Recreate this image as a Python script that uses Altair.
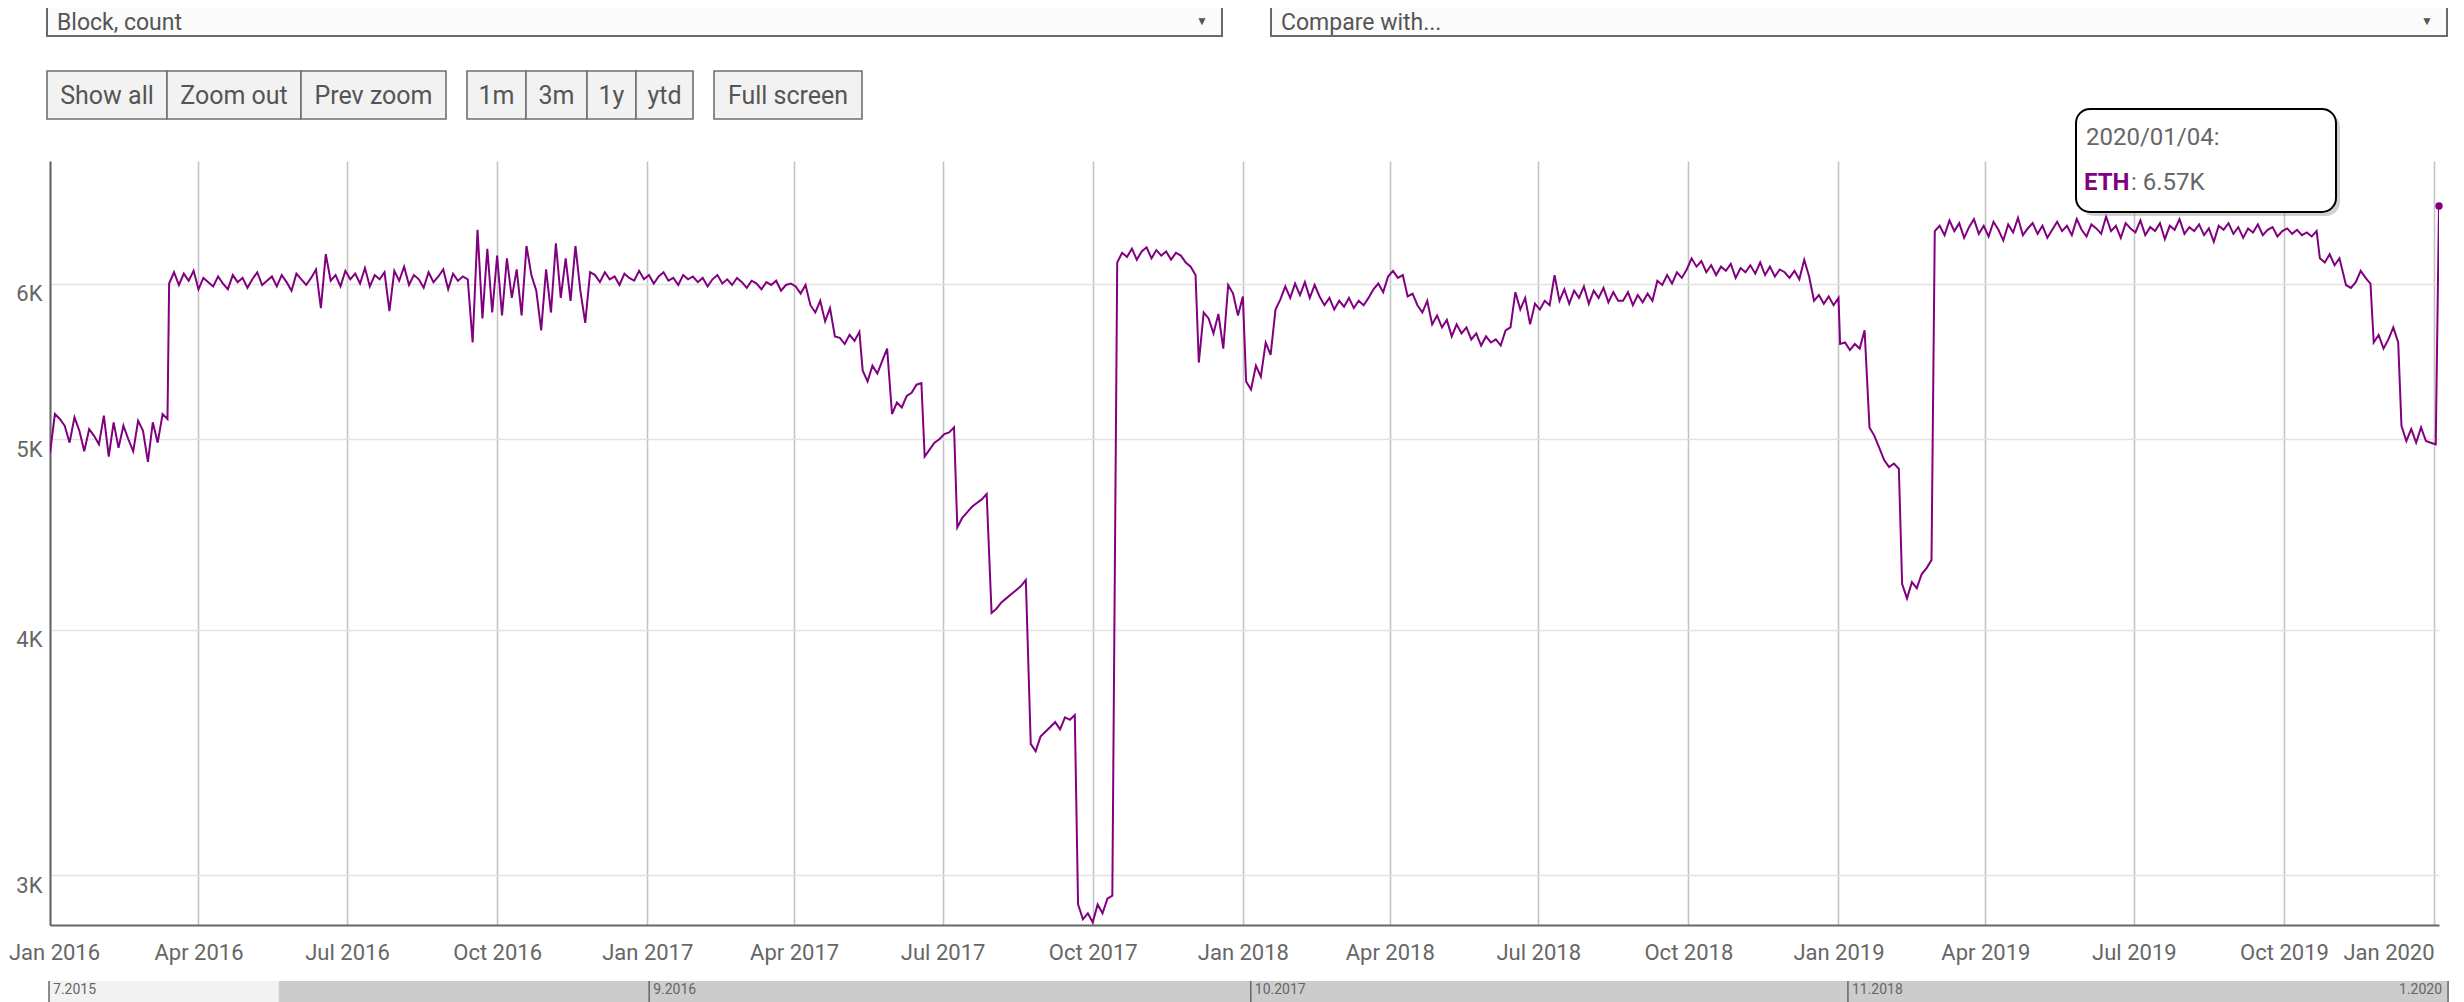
import altair as alt
import pandas as pd

BASE = "2016-01-01"
STEP_DAYS = 3

frontier_2016 = [4920, 5150, 5120, 5080, 4980, 5130, 5050, 4930, 5060, 5020,
                 4970, 5140, 4900, 5100, 4950, 5080, 5000, 4930, 5110, 5050,
                 4870, 5100, 4980, 5150, 5120]
homestead_2016 = [6000, 6080, 5990, 6070, 6020, 6090, 5960, 6040, 6010, 5980,
                  6050, 6000, 5960, 6060, 6010, 6040, 5970, 6030, 6080, 5990,
                  6020, 6050, 5980, 6060, 6010, 5950, 6070, 6030, 5990, 6040,
                  6100, 5830, 6210, 6020, 6060, 5980, 6090, 6030, 6070, 6000,
                  6110, 5980, 6060, 6030, 6080, 5810, 6090, 6020, 6120, 5990,
                  6060, 6030, 5970, 6080, 6010, 6050, 6100, 5960, 6070, 6020,
                  6050]
attacks_2016 = [6030, 5600, 6390, 5760, 6250, 5800, 6200, 5780, 6180, 5900,
                6100, 5780, 6270, 6060, 5950, 5680, 6100, 5800, 6290, 5900,
                6180, 5880, 6270, 5950, 5730, 6080]
stable_2017 = [6060, 6010, 6080, 6030, 6050, 5990, 6070, 6040, 6020, 6090,
               6030, 6060, 6000, 6050, 6080, 6020, 6040, 5990, 6060, 6030,
               6050, 6010, 6040, 5980, 6030, 6060, 6000, 6030, 5990, 6040,
               6010, 5970, 6020, 6000, 5960, 6010, 5990, 6020, 5950, 5990,
               6000]
decline_2017 = [5980, 5930, 5990, 5850, 5800, 5880, 5740, 5830, 5640, 5630,
                5590, 5650, 5610, 5670]
bomb_step1 = [5420, 5350, 5450, 5400, 5480, 5560]
bomb_step2 = [5150, 5220, 5190, 5260, 5280, 5330, 5340]
bomb_step3 = [4900, 4940, 4980, 5000, 5030, 5040, 5070]
bomb_step4 = [4510, 4560, 4590, 4620, 4640, 4660, 4690]
bomb_step5 = [4080, 4100, 4130, 4150, 4170, 4190, 4210, 4240]
bomb_step6 = [3500, 3470, 3530, 3550, 3570, 3590, 3560, 3610, 3600, 3620]
bomb_step7 = [2900, 2850, 2870, 2840, 2900, 2870, 2920, 2930]
byzantium_2017 = [6150, 6220, 6190, 6250, 6170, 6230, 6260, 6180, 6240, 6200,
                  6230, 6170, 6220, 6200, 6150, 6120, 6060]
dec_2017 = [5470, 5800, 5760, 5660, 5790, 5560, 5990, 5930, 5780, 5910]
year_2018 = [5350, 5300, 5450, 5380, 5600, 5520, 5820, 5890, 5980, 5900,
             6000, 5920, 6010, 5900, 5990, 5910, 5850, 5900, 5820, 5880,
             5840, 5900, 5830, 5880, 5850, 5900, 5960, 6000, 5940, 6050,
             6090, 6040, 6060, 5910, 5930, 5850, 5800, 5880, 5720, 5780,
             5700, 5750, 5640, 5720, 5660, 5700, 5620, 5660, 5580, 5640,
             5600, 5620, 5580, 5680, 5700, 5940, 5820, 5900, 5720, 5860,
             5820, 5880, 5850, 6060, 5880, 5960, 5860, 5950, 5900, 5980,
             5860, 5950, 5900, 5970, 5870, 5940, 5880, 5880, 5940, 5850,
             5920, 5870, 5930, 5880, 6020, 5990, 6060, 6000, 6080, 6040,
             6100, 6180, 6120, 6160, 6080, 6130, 6060, 6120, 6090, 6140,
             6040, 6110, 6080, 6130, 6070, 6150, 6060, 6120, 6050, 6100,
             6080, 6040, 6090, 6030, 6170, 6050, 5880, 5920, 5860, 5910,
             5850, 5900]
jan_2019 = [5590, 5600, 5550, 5590, 5560, 5680]
feb_2019a = [5070, 5020, 4950, 4880, 4840, 4860, 4830]
feb_2019b = [4220, 4150, 4230, 4200, 4270, 4300, 4340]
constantinople_2019 = [6380, 6420, 6350, 6460, 6380, 6440, 6330, 6410, 6470, 6360,
                       6420, 6340, 6450, 6390, 6310, 6430, 6370, 6480, 6350, 6400,
                       6440, 6360, 6420, 6330, 6390, 6450, 6380, 6420, 6350, 6470,
                       6390, 6340, 6430, 6400, 6360, 6490, 6380, 6420, 6330, 6440,
                       6400, 6370, 6460, 6350, 6410, 6380, 6440, 6320, 6420, 6390,
                       6470, 6360, 6410, 6380, 6430, 6350, 6400, 6300, 6420, 6390,
                       6440, 6360, 6410, 6330, 6400, 6370, 6430, 6350, 6390, 6410,
                       6340, 6380, 6400, 6360, 6390, 6350, 6370, 6340, 6380]
oct_2019 = [6180, 6150, 6210, 6130, 6180]
nov_2019a = [5990, 5970, 6010, 6090, 6040, 6000]
nov_2019b = [5600, 5650, 5560, 5620, 5700, 5600]
dec_2019 = [5080, 4990, 5060, 4980, 5070, 4990, 4980, 4970]
muir_2020 = [6570]

# (first day offset from BASE, values)
segments = [
    (0, frontier_2016), (73, homestead_2016), (256, attacks_2016), (334, stable_2017),
    (457, decline_2017), (498, bomb_step1), (516, bomb_step2), (536, bomb_step3),
    (556, bomb_step4), (577, bomb_step5), (601, bomb_step6), (630, bomb_step7),
    (654, byzantium_2017), (704, dec_2017), (733, year_2018), (1097, jan_2019),
    (1115, feb_2019a), (1135, feb_2019b), (1155, constantinople_2019), (1391, oct_2019),
    (1407, nov_2019a), (1424, nov_2019b), (1441, dec_2019), (1464, muir_2020),
]

rows = []
for start, vals in segments:
    for i, v in enumerate(vals):
        rows.append({"date": pd.Timestamp(BASE) + pd.Timedelta(days=start + STEP_DAYS * i),
                     "blocks": v})
df = pd.DataFrame(rows)
last = df.iloc[-1]
df["date"] = df["date"].dt.strftime("%Y-%m-%dT%H:%M:%S")
last_df = df.iloc[[-1]]

tooltip_date = f"{last['date']:%Y/%m/%d}:"
tooltip_series = "ETH"
tooltip_value = f": {last['blocks'] / 1000:.2f}K"

dropdown_labels = ["Block, count", "Compare with..."]
button_labels = ["Show all", "Zoom out", "Prev zoom", "1m", "3m", "1y", "ytd", "Full screen"]

nav_ticks = pd.DataFrame({
    "date": ["2015-07-30T00:00:00", "2016-09-07T00:00:00", "2017-10-18T00:00:00",
             "2018-11-25T00:00:00", "2020-01-04T00:00:00"],
    "label": ["7.2015", "9.2016", "10.2017", "11.2018", "1.2020"],
})
nav_ranges = pd.DataFrame({
    "start": ["2015-07-30T00:00:00", "2016-01-01T00:00:00"],
    "end": ["2016-01-01T00:00:00", "2020-01-04T00:00:00"],
    "kind": ["history", "selected"],
})

# ---------------- styling / layout -------------
W, H = 2389, 764
PURPLE = "#800080"
GREY_TXT = "#666666"
FONT = "Roboto"

x_ticks = [alt.DateTime(year=y, month=m, date=1) for y in range(2016, 2020) for m in (1, 4, 7, 10)]
x_ticks.append(alt.DateTime(year=2020, month=1, date=1))

FIRST_TICK = "year(datum.value) == 2016 && month(datum.value) == 0"
LAST_TICK = "year(datum.value) >= 2020"

x_enc = alt.X(
    "date:T",
    scale=alt.Scale(domain=[alt.DateTime(year=2016, month=1, date=1),
                            alt.DateTime(year=2020, month=1, date=4)], nice=False),
    axis=alt.Axis(values=x_ticks, format="%b %Y", title=None, grid=True,
                  gridColor="#c4c4c4", gridWidth=1.6, domainColor="#666666", domainWidth=2,
                  ticks=False, labelFont=FONT, labelFontSize=22, labelColor=GREY_TXT,
                  labelPadding=27, labelBaseline="middle", labelFlush=False,
                  labelOverlap=False,
                  labelAlign={"condition": {"test": LAST_TICK, "value": "right"},
                              "value": "center"},
                  labelOffset={"condition": [{"test": FIRST_TICK, "value": 4}],
                               "value": 0}),
)
y_enc = alt.Y(
    "blocks:Q",
    scale=alt.Scale(type="log", domain=[2831, 6926], nice=False, zero=False),
    axis=alt.Axis(values=[3000, 4000, 5000, 6000], labelExpr="(datum.value / 1000) + 'K'",
                  title=None, grid=True, gridColor="#e2e2e2", gridWidth=1.6,
                  domainColor="#666666", domainWidth=2, ticks=False, labelFont=FONT,
                  labelFontSize=22, labelColor=GREY_TXT, labelPadding=8,
                  labelBaseline="middle", labelOffset=10),
)

line = alt.Chart(df).mark_line(color=PURPLE, strokeWidth=2, clip=True).encode(x=x_enc, y=y_enc)
dot = alt.Chart(last_df).mark_point(filled=True, color=PURPLE, size=55, opacity=1).encode(
    x="date:T", y="blocks:Q")

one = pd.DataFrame({"k": [0]})


def box(x0, x1, y0, y1, fill, stroke=None, sw=1.5, r=0, opacity=1.0):
    kw = dict(fill=fill, strokeWidth=sw, cornerRadius=r, opacity=opacity)
    if stroke:
        kw["stroke"] = stroke
    return alt.Chart(one).mark_rect(**kw).encode(
        x=alt.value(x0), x2=alt.value(x1), y=alt.value(y0), y2=alt.value(y1))


def txt(x, y, text, size, color, align="left", baseline="middle", weight="normal"):
    return alt.Chart(one).mark_text(align=align, baseline=baseline, fontSize=size, color=color,
                                    font=FONT, fontWeight=weight).encode(
        x=alt.value(x), y=alt.value(y), text=alt.value(text))


ui = []
# dropdowns (their tops run off the page, as in the reference)
dd_edges = [(-3, 1172), (1221, 2397)]
for (x0, x1), lab in zip(dd_edges, dropdown_labels):
    ui.append(box(x0, x1, -175, -125, "#fbfbfb", "#6a6a6a", 2))
    ui.append(txt(x0 + 10, -131, lab, 23, "#555555", baseline="alphabetic"))
    ui.append(txt(x1 - 20, -140, "▼", 12, "#555555", align="center"))
# buttons
btn_edges = [(-3, 117), (117, 251), (251, 396), (417, 476), (476, 537), (537, 586),
             (586, 643), (664, 812)]
for (x0, x1), lab in zip(btn_edges, button_labels):
    ui.append(box(x0, x1, -90, -42, "#f2f2f2", "#707070", 1.6))
    ui.append(txt((x0 + x1) / 2, -65, lab, 25, "#555555", align="center"))

# tooltip
tip = [
    box(2030, 2290, -48, 55, "#9a9a9a", None, 0, 14, 0.45),
    box(2026, 2286, -52, 51, "white", "black", 2, 14),
    txt(2036, -23, tooltip_date, 24, GREY_TXT),
    txt(2034, 22, tooltip_series, 24, PURPLE, weight="bold"),
    txt(2081, 22, tooltip_value, 24, GREY_TXT),
]

main = alt.layer(line, dot, *ui, *tip)

# navigator (own time scale)
nav_scale = alt.Scale(domain=[alt.DateTime(year=2015, month=7, date=30, hours=16),
                              alt.DateTime(year=2019, month=12, date=28, hours=21)], nice=False)
nav_bg = alt.Chart(nav_ranges).mark_rect().encode(
    x=alt.X("start:T", scale=nav_scale, axis=None), x2="end:T",
    y=alt.value(820), y2=alt.value(910),
    color=alt.Color("kind:N", scale=alt.Scale(domain=["history", "selected"],
                                              range=["#f2f2f2", "#cccccc"]), legend=None))
nav_rules = alt.Chart(nav_ticks).mark_rule(color="#666666", strokeWidth=1.5).encode(
    x=alt.X("date:T", scale=nav_scale, axis=None), y=alt.value(820), y2=alt.value(910))
nav_text_left = alt.Chart(nav_ticks.iloc[:-1]).mark_text(
    align="left", baseline="top", dx=4, fontSize=14, color=GREY_TXT, font=FONT).encode(
    x=alt.X("date:T", scale=nav_scale, axis=None), y=alt.value(822), text="label:N")
nav_text_right = alt.Chart(nav_ticks.iloc[[-1]]).mark_text(
    align="right", baseline="top", dx=-6, fontSize=14, color=GREY_TXT, font=FONT).encode(
    x=alt.X("date:T", scale=nav_scale, axis=None), y=alt.value(822), text="label:N")
nav = alt.layer(nav_bg, nav_rules, nav_text_left, nav_text_right)

chart = alt.layer(main, nav).resolve_scale(x="independent").properties(
    width=W, height=H,
    padding={"left": 42, "top": 153, "right": 17, "bottom": 90},
    autosize=alt.AutoSizeParams(type="none"),
    background="white",
).configure_view(stroke=None)

chart.save("out.html", embed_options={"renderer": "svg", "actions": False})
